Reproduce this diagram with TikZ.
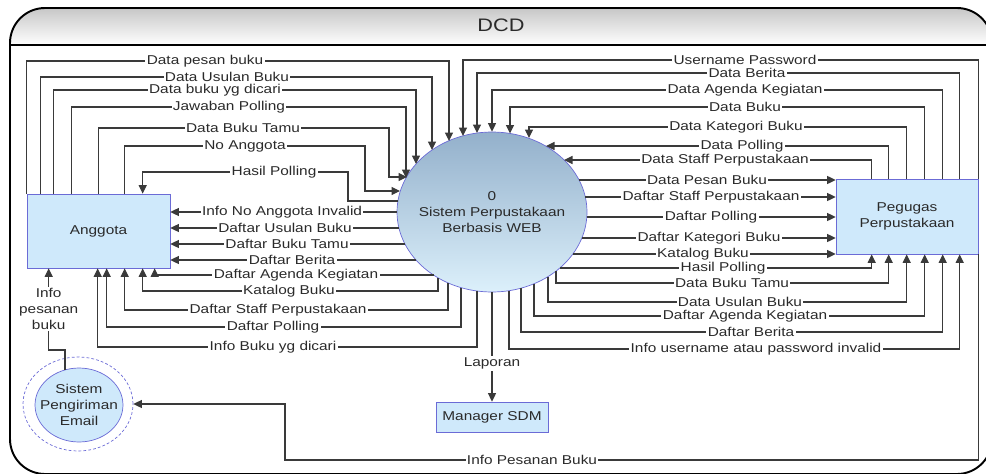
\documentclass[tikz,border=0pt]{standalone}
\usepackage{fontspec}
\setmainfont{Liberation Sans}[FakeStretch=1.2]
\usepackage{xcolor}
\usepackage{tikz}
\usetikzlibrary{shapes,arrows,positioning,calc,arrows.meta}
\definecolor{boxfill}{HTML}{CFE9FB}
\definecolor{boxline}{HTML}{6B6BD6}
\definecolor{flowline}{HTML}{3A3A3A}
\definecolor{txt}{HTML}{2A2A2A}
\definecolor{systop}{HTML}{93B0CB}
\definecolor{sysmid}{HTML}{C4DDEF}
\definecolor{sysbot}{HTML}{DCF0FB}

\begin{document}
\begin{tikzpicture}[x=0.02cm, y=-0.02cm,
    every node/.style={font=\fontsize{7.3}{9}\selectfont, text=txt},
    entity/.style={rectangle, draw=boxline, fill=boxfill, inner sep=0pt, align=center},
    proses/.style={ellipse, draw=boxline, inner ysep=0pt, inner xsep=-0.3cm, align=center},
    flow/.style={draw=flowline, line width=0.6pt, -{Triangle[length=0.17cm,width=0.16cm]}},
    lbl/.style={fill=white, inner sep=0.8pt}]
    \useasboundingbox (0,0) rectangle (986,473);
    \begin{scope}
        \clip[rounded corners=0.7cm] (10,8) rectangle (992,474);
        \shade[top color=black!22, bottom color=white] (10,8) rectangle (992,45);
    \end{scope}
    \draw[line width=1.1pt, rounded corners=0.7cm] (10,8) rectangle (992,474);
    \draw[line width=1.1pt] (10,45) -- (992,45);
    \node[font=\fontsize{10.3}{12}\selectfont] (judul) at (501,25) {DCD};

    \node[entity, minimum width=2.86cm, minimum height=1.48cm] (Anggota) at (98.5,231) {Anggota};
    \node[entity, minimum width=2.84cm, minimum height=1.5cm] (Peg) at (907,216.5) {Pegugas\\Perpustakaan};
    \node[proses, minimum width=3.8cm, minimum height=3.2cm, top color=systop, middle color=sysmid, bottom color=sysbot] (Sys) at (492,212) {0\\Sistem Perpustakaan\\Berbasis WEB};
    \node[entity, minimum width=2.24cm, minimum height=0.6cm] (Mgr) at (492,417) {Manager SDM};
    \node[proses, fill=boxfill, minimum width=1.76cm, minimum height=1.48cm] (Email) at (79,405) {Sistem\\Pengiriman\\Email};
    \node[ellipse, draw=boxline, dash pattern=on 1.6pt off 1.2pt, minimum width=2.2cm, minimum height=1.88cm] (EmailRing) at (78,404) {};

    \draw[flow] (Anggota.north west) |- (205,61) node[lbl] {Data pesan buku} -- (449,61) -- ($(Sys)+(-43,-71)$);
    \draw[flow] (Anggota.north west) ++(14,0) |- (227,77) node[lbl] {Data Usulan Buku} -- (432,77) -- ($(Sys)+(-60,-62)$);
    \draw[flow] (Anggota.north west) ++(27,0) |- (215,90) node[lbl] {Data buku yg dicari} -- (416,90) -- ($(Sys)+(-76,-48)$);
    \draw[flow] (Anggota.north west) ++(45,0) |- (229,107) node[lbl] {Jawaban Polling} -- (406,107) -- ($(Sys)+(-86,-34)$);
    \draw[flow] (Anggota.north west) ++(72,0) |- (243,128) node[lbl] {Data Buku Tamu} -- (389,128) |- ($(Sys)+(-85,-35)$);
    \draw[flow] (Anggota.north west) ++(98,0) |- (245,146) node[lbl] {No Anggota} -- (365,146) |- ($(Sys)+(-92,-21)$);
    \draw[flow] ($(Sys)+(-94,-11)$) -| (348,172) -- (274,172) node[lbl] {Hasil Polling} -| ($(Anggota.north west)+(116,0)$);

    \draw[flow] (Sys.west) -- (282,212) node[lbl] {Info No Anggota Invalid} -- (Anggota.east |- Sys.west);
    \draw[flow] ($(Sys)+(-93,16)$) -- (285,228) node[lbl] {Daftar Usulan Buku} -- (Anggota.east |- 285,228);
    \draw[flow] ($(Sys)+(-87,32)$) -- (287,244) node[lbl] {Daftar Buku Tamu} -- (Anggota.east |- 287,244);
    \draw[flow] ($(Sys)+(-76,48)$) -- (292,260) node[lbl] {Daftar Berita} -- (Anggota.east |- 292,260);
    \draw[flow] ($(Sys)+(-58.5,63)$) -- (296,275) node[lbl] {Daftar Agenda Kegiatan} -| ($(Anggota.south west)+(128,0)$);
    \draw[flow] ($(Sys)+(-54,66)$) |- (289,291) node[lbl] {Katalog Buku} -| ($(Anggota.south west)+(116,0)$);
    \draw[flow] ($(Sys)+(-44,71)$) |- (278,310) node[lbl] {Daftar Staff Perpustakaan} -| ($(Anggota.south west)+(98,0)$);
    \draw[flow] ($(Sys)+(-31,76)$) |- (273,327) node[lbl] {Daftar Polling} -| ($(Anggota.south west)+(80,0)$);
    \draw[flow] ($(Sys)+(-15,79)$) |- (273,347) node[lbl] {Info Buku yg dicari} -| ($(Anggota.south west)+(71,0)$);

    \draw[flow] (Sys.south) -- node[lbl, pos=0.65] {Laporan} (Mgr.north);
    \draw[flow] ($(Email)+(-14,-35)$) -- ++(0,-20) -| node[lbl, pos=0.75, align=center] {Info\\pesanan\\buku} ($(Anggota.south west)+(22,0)$);
    \draw[flow] (Peg.south east) |- (532,460) node[lbl] {Info Pesanan Buku} -- (285,460) |- (EmailRing.east);

    \draw[flow] (Peg.north east) |- (745,60) node[lbl] {Username Password} -- (463,60) -- ($(Sys)+(-29,-76)$);
    \draw[flow] (Peg.north west) ++(124,0) |- (747,73) node[lbl] {Data Berita} -- (477,73) -- ($(Sys)+(-15,-79)$);
    \draw[flow] (Peg.north west) ++(107,0) |- (745,90) node[lbl] {Data Agenda Kegiatan} -- (492,90) -- (Sys.north);
    \draw[flow] (Peg.north west) ++(89,0) |- (745,107) node[lbl] {Data Buku} -- (510,107) -- ($(Sys)+(18,-78.5)$);
    \draw[flow] (Peg.north west) ++(71,0) |- (736,127) node[lbl] {Data Kategori Buku} -- (529,127) -- ($(Sys)+(37,-74)$);
    \draw[flow] (Peg.north west) ++(53,0) |- (742,146) node[lbl] {Data Polling} -- ($(Sys)+(54,-66)$);
    \draw[flow] (Peg.north west) ++(36,0) |- (725,160) node[lbl] {Data Staff Perpustakaan} -- ($(Sys)+(72,-52)$);

    \draw[flow] ($(Sys)+(87,-32)$) -- (707,180) node[lbl] {Data Pesan Buku} -- (Peg.west |- 707,180);
    \draw[flow] ($(Sys)+(93,-15)$) -- (711,197) node[lbl] {Daftar Staff Perpustakaan} -- (Peg.west |- 711,197);
    \draw[flow] ($(Sys)+(94.8,5)$) -- (711,217) node[lbl] {Daftar Polling} -- (Peg.west |- 711,217);
    \draw[flow] ($(Sys)+(90,26)$) -- (709,238) node[lbl] {Daftar Kategori Buku} -- (Peg.west |- 709,238);
    \draw[flow] ($(Sys)+(81,42)$) -- (703,254) node[lbl] {Katalog Buku} -- (Peg.west |- 703,254);

    \draw[flow] ($(Sys)+(68,56)$) -- (723,268) node[lbl] {Hasil Polling} -| ($(Peg.south west)+(36,0)$);
    \draw[flow] ($(Sys)+(64,59)$) |- (732,283) node[lbl] {Data Buku Tamu} -| ($(Peg.south west)+(53,0)$);
    \draw[flow] ($(Sys)+(56,65)$) |- (740,302) node[lbl] {Data Usulan Buku} -| ($(Peg.south west)+(71,0)$);
    \draw[flow] ($(Sys)+(42,72)$) |- (745,316) node[lbl] {Daftar Agenda Kegiatan} -| ($(Peg.south west)+(89,0)$);
    \draw[flow] ($(Sys)+(29,76)$) |- (751,332) node[lbl] {Daftar Berita} -| ($(Peg.south west)+(107,0)$);
    \draw[flow] ($(Sys)+(17,79)$) |- (756,349) node[lbl] {Info username atau password invalid} -| ($(Peg.south west)+(124,0)$);
\end{tikzpicture}
\end{document}
